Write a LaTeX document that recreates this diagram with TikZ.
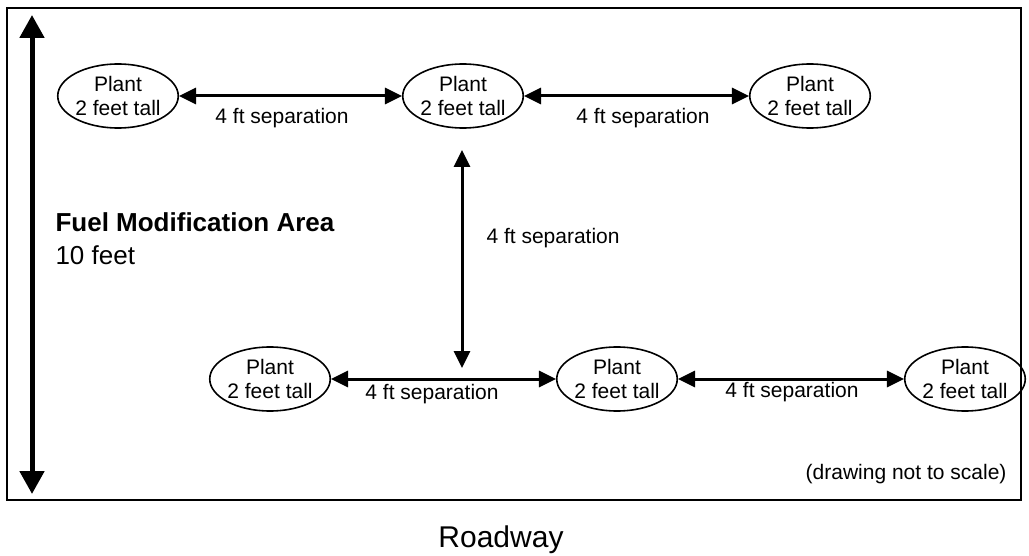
\documentclass[tikz,border=0pt]{standalone}
\usepackage{fontspec}
\setmainfont{Liberation Sans}
\usetikzlibrary{arrows.meta,shapes.geometric}

\begin{document}
\begin{tikzpicture}[x=1pt,y=-1pt,
  plant/.style={draw, line width=1.6pt, ellipse, inner sep=0pt,
    minimum width=118pt, minimum height=64pt, align=center,
    font=\fontsize{21}{24}\selectfont},
  sep/.style={line width=3pt, {Triangle[length=17pt,width=16pt]}-{Triangle[length=17pt,width=16pt]}},
  seplabel/.style={font=\fontsize{21}{24}\selectfont}]

  \def\xmin{0}
  \def\xmax{1029}
  \def\ymin{0}
  \def\ymax{556}

  \useasboundingbox (\xmin,\ymin) rectangle (\xmax,\ymax);

  % frame
  \draw[line width=2pt] (7,8) rectangle (1021,500);

  % fuel modification area
  \coordinate (areatop) at (32,15);
  \coordinate (areabot) at (32,494);
  \draw[line width=5pt, {Triangle[length=23pt,width=24pt]}-{Triangle[length=23pt,width=24pt]}] (areatop) -- (areabot);
  \node (fuel) at (52,232) [anchor=base west, font=\fontsize{26}{30}\selectfont\bfseries] {Fuel Modification Area};
  \node (ten) at (52,265) [anchor=base west, font=\fontsize{26}{30}\selectfont] {10 feet};

  % plants
  \node[plant] (p1) at (118,96) {Plant\\2 feet tall};
  \node[plant] (p2) at (463,96) {Plant\\2 feet tall};
  \node[plant] (p3) at (810,96) {Plant\\2 feet tall};
  \node[plant] (p4) at (270,379) {Plant\\2 feet tall};
  \node[plant] (p5) at (617,379) {Plant\\2 feet tall};
  \node[plant] (p6) at (965,379) {Plant\\2 feet tall};

  % separations
  \draw[sep] (p1) -- (p2);
  \draw[sep] (p2) -- (p3);
  \draw[sep] (p4) -- (p5);
  \draw[sep] (p5) -- (p6);
  \coordinate (vtop) at (462,150);
  \coordinate (vbot) at (462,368);
  \draw[sep] (vtop) -- (vbot);

  \node[seplabel] (s1) at (282,118) {4 ft separation};
  \node[seplabel] (s2) at (643,118) {4 ft separation};
  \node[seplabel, anchor=west] (s3) at (483,238) {4 ft separation};
  \node[seplabel] (s4) at (432,394) {4 ft separation};
  \node[seplabel] (s5) at (792,392) {4 ft separation};

  \node[seplabel, anchor=base east] (scale) at (1010,479) {(drawing not to scale)};
  \node[anchor=base, font=\fontsize{30}{34}\selectfont] (road) at (501,547) {Roadway};

\end{tikzpicture}
\end{document}
